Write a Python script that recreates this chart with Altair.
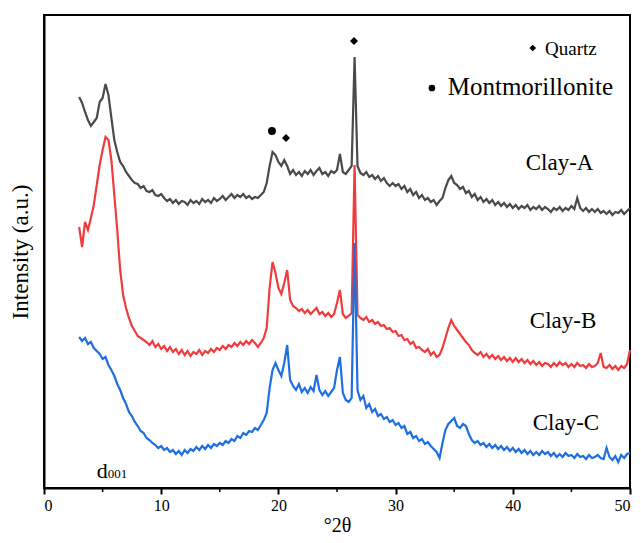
import altair as alt
import pandas as pd

# Diffraction angle grid (°2θ), 3.0 to 50.0 in 0.25° steps
two_theta = [3 + 0.25 * i for i in range(189)]

# Intensities (a.u., already vertically offset per sample); one row per degree
clay_a = [
    391, 385, 376, 368,  362, 366, 370, 386,  390, 404, 393, 370,
    348, 336, 326, 322,  316, 312, 308, 305,  304, 300, 302, 297,
    296, 298, 293, 292,  294, 290, 287, 289,  285, 288, 284, 287,
    286, 283, 288, 285,  287, 284, 289, 286,  288, 285, 290, 287,
    289, 292, 288, 291,  294, 290, 293, 291,  294, 290, 292, 289,
    291, 290, 293, 296,  305, 322, 336, 333,  326, 322, 328, 322,
    314, 318, 313, 316,  312, 317, 314, 318,  313, 317, 320, 314,
    316, 312, 317, 315,  318, 334, 316, 314,  318, 322, 431, 322,
    315, 313, 316, 311,  313, 309, 312, 307,  310, 305, 302, 305,
    302, 304, 299, 302,  296, 299, 293, 296,  290, 293, 288, 290,
    286, 288, 283, 287,  290, 300, 308, 312,  305, 303, 299, 301,
    295, 297, 291, 294,  288, 291, 286, 289,  285, 288, 283, 286,
    282, 285, 281, 284,  280, 283, 279, 282,  280, 283, 278, 281,
    279, 282, 278, 281,  279, 276, 280, 278,  281, 277, 280, 278,
    282, 279, 290, 280,  277, 280, 276, 279,  276, 279, 275, 277,
    274, 277, 273, 276,  275, 278, 274, 277,  280,
]
clay_b = [
    261, 241, 266, 258,  270, 283, 303, 323,  338, 351, 348, 328,
    293, 258, 218, 193,  180, 170, 162, 157,  152, 150, 148, 146,
    143, 147, 141, 144,  139, 142, 137, 141,  136, 139, 134, 138,
    133, 137, 132, 136,  134, 138, 133, 137,  135, 139, 136, 140,
    138, 142, 139, 143,  141, 145, 142, 146,  143, 147, 144, 148,
    145, 141, 145, 150,  160, 200, 226, 215,  200, 194, 205, 218,
    188, 182, 180, 177,  179, 175, 178, 174,  177, 180, 174, 176,
    172, 175, 171, 174,  185, 198, 174, 170,  172, 175, 323, 173,
    170, 168, 171, 166,  168, 164, 166, 162,  163, 159, 160, 156,
    157, 152, 153, 148,  149, 144, 146, 140,  141, 138, 136, 139,
    133, 136, 131, 133,  140, 150, 160, 168,  162, 158, 154, 150,
    146, 143, 138, 135,  133, 136, 131, 134,  130, 133, 129, 132,
    128, 131, 127, 130,  126, 130, 126, 129,  125, 128, 124, 127,
    123, 126, 122, 125,  124, 121, 125, 122,  126, 123, 125, 121,
    124, 121, 125, 122,  123, 120, 124, 121,  122, 125, 135, 121,
    120, 123, 119, 122,  118, 122, 120, 124,  138,
]
clay_c = [
    151, 147, 150, 144,  146, 140, 137, 134,  129, 131, 123, 118,
    112, 104, 98, 90,    84, 76, 72, 66,      62, 57, 55, 50,
    48, 45, 43, 40,      42, 38, 40, 36,      38, 34, 37, 33,
    38, 35, 39, 37,      41, 38, 42, 39,      43, 40, 44, 42,
    45, 43, 47, 45,      49, 47, 52, 50,      55, 53, 57, 56,
    60, 58, 63, 68,      75, 100, 118, 125,   118, 112, 125, 143,
    108, 102, 98, 104,   96, 100, 95, 101,    97, 113, 98, 93,
    97, 92, 96, 100,     118, 131, 95, 88,    86, 90, 245, 98,
    88, 92, 80, 84,      76, 79, 72, 74,      69, 71, 66, 68,
    63, 65, 60, 62,      54, 56, 50, 52,      47, 49, 44, 46,
    42, 39, 36, 30,      45, 58, 64, 67,      70, 62, 60, 64,
    62, 54, 48, 45,      47, 43, 45, 41,      44, 40, 43, 39,
    42, 38, 41, 37,      40, 36, 39, 35,      38, 34, 37, 33,
    36, 33, 37, 34,      36, 32, 35, 31,      34, 31, 35, 32,
    33, 30, 34, 31,      32, 29, 33, 30,      31, 33, 30, 29,
    40, 31, 28, 32,      26, 33, 30, 34,      35,
]

samples = ["Clay-A", "Clay-B", "Clay-C"]
colors = ["#4a4a4a", "#f03c3c", "#1f6fe0"]
series = [clay_a, clay_b, clay_c]

rows = []
for name, vals in zip(samples, series):
    assert len(vals) == len(two_theta)
    for t, v in zip(two_theta, vals):
        rows.append({"angle": t, "intensity": v, "sample": name})
patterns = pd.DataFrame(rows)

# Annotations: sample labels, phase markers, legend key, reflection label
label_x = [41.1, 41.45, 41.7]
label_y = [318, 160, 58]
labels = pd.DataFrame({"x": label_x, "y": label_y, "text": samples})

marker_x = [19.45, 20.65, 26.45]
marker_y = [357, 350, 447]
marker_shape = ["circle", "diamond", "diamond"]
markers = pd.DataFrame({"x": marker_x, "y": marker_y, "shape": marker_shape})

key = pd.DataFrame({"x": [41.7, 33.1], "y": [440, 400], "shape": ["diamond", "circle"]})
key_text = pd.DataFrame({"x": [42.75, 34.45], "y": [433, 393],
                         "text": ["Quartz", "Montmorillonite"], "size": [19, 25]})

major_ticks = [0, 10, 20, 30, 40, 50]
minor_ticks = [5, 15, 25, 35, 45]

FONT = "Liberation Serif"
xscale = alt.Scale(domain=[0, 50], nice=False)
yscale = alt.Scale(domain=[0, 473], nice=False)

lines = alt.Chart(patterns).mark_line(strokeWidth=2.2).encode(
    x=alt.X("angle:Q", scale=xscale,
            axis=alt.Axis(values=major_ticks, title="°2θ", format="d")),
    y=alt.Y("intensity:Q", scale=yscale,
            axis=alt.Axis(title="Intensity (a.u.)", labels=False, ticks=False)),
    color=alt.Color("sample:N", scale=alt.Scale(domain=samples, range=colors), legend=None),
)

minor = alt.Chart(pd.DataFrame({"v": minor_ticks})).mark_rule(
    color="black", strokeWidth=1.5
).encode(
    x=alt.X("v:Q", scale=xscale),
    y=alt.value(473),
    y2=alt.value(477),
)

sample_labels = alt.Chart(labels).mark_text(
    font=FONT, fontSize=23, align="left", baseline="alphabetic", color="black"
).encode(x=alt.X("x:Q", scale=xscale), y=alt.Y("y:Q", scale=yscale), text="text:N")

peak_marks = alt.Chart(markers).mark_point(filled=True, size=64, color="black", opacity=1).encode(
    x=alt.X("x:Q", scale=xscale), y=alt.Y("y:Q", scale=yscale),
    shape=alt.Shape("shape:N", scale=None),
)

key_marks = alt.Chart(key).mark_point(filled=True, size=45, color="black", opacity=1).encode(
    x=alt.X("x:Q", scale=xscale), y=alt.Y("y:Q", scale=yscale),
    shape=alt.Shape("shape:N", scale=None),
)

key_labels = alt.Chart(key_text).mark_text(
    font=FONT, align="left", baseline="alphabetic", color="black"
).encode(
    x=alt.X("x:Q", scale=xscale), y=alt.Y("y:Q", scale=yscale), text="text:N",
    size=alt.Size("size:Q", scale=None),
)

d_main = alt.Chart(pd.DataFrame({"x": [4.5], "y": [10], "t": ["d"]})).mark_text(
    font=FONT, fontSize=22, align="left", baseline="alphabetic", color="black"
).encode(x=alt.X("x:Q", scale=xscale), y=alt.Y("y:Q", scale=yscale), text="t:N")

d_sub = alt.Chart(pd.DataFrame({"x": [5.45], "y": [10], "t": ["001"]})).mark_text(
    font=FONT, fontSize=13, align="left", baseline="alphabetic", color="black"
).encode(x=alt.X("x:Q", scale=xscale), y=alt.Y("y:Q", scale=yscale), text="t:N")

chart = alt.layer(
    lines, minor, sample_labels, peak_marks, key_marks, key_labels, d_main, d_sub
).properties(
    width=586, height=473,
    autosize=alt.AutoSizeParams(type="none"),
    padding={"left": 44, "top": 15, "right": 11, "bottom": 55},
    background="white",
).configure_view(
    stroke="black", strokeWidth=2
).configure_axis(
    grid=False,
    domainColor="black", domainWidth=2,
    tickColor="black", tickWidth=2, tickSize=6,
    labelFont=FONT, labelFontSize=16, labelColor="black", labelPadding=3,
    titleFont=FONT, titleColor="black", titleFontWeight="normal",
).configure_axisX(
    titleFontSize=20, titlePadding=2,
).configure_axisY(
    titleFontSize=23, titlePadding=12,
)

chart.save("out.html", embed_options={"renderer": "svg", "actions": False})
